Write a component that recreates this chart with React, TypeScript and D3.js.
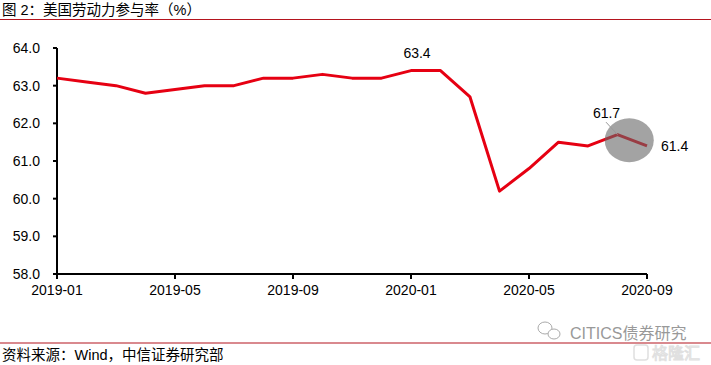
import * as d3 from "d3";

const months = [
  "2019-01", "2019-02", "2019-03", "2019-04", "2019-05", "2019-06", "2019-07",
  "2019-08", "2019-09", "2019-10", "2019-11", "2019-12", "2020-01", "2020-02",
  "2020-03", "2020-04", "2020-05", "2020-06", "2020-07", "2020-08", "2020-09",
];
const rates = [
  63.2, 63.1, 63.0, 62.8, 62.9, 63.0, 63.0, 63.2, 63.2, 63.3, 63.2, 63.2,
  63.4, 63.4, 62.7, 60.2, 60.8, 61.5, 61.4, 61.7, 61.4,
];
const xTickLabels = ["2019-01", "2019-05", "2019-09", "2020-01", "2020-05", "2020-09"];
const yTicks = [58, 59, 60, 61, 62, 63, 64];
const annotated = ["2020-01", "2020-08", "2020-09"];

const W = 711;
const H = 365;
const FONT = "'Liberation Sans', Arial, 'Noto Sans CJK SC', sans-serif";

export default function App() {
  const margin = { left: 57, right: 64, top: 48, bottom: 91 };
  const x = d3
    .scalePoint<string>()
    .domain(months)
    .range([margin.left, W - margin.right]);
  const y = d3.scaleLinear().domain([58, 64]).range([H - margin.bottom, margin.top]);

  const line = d3
    .line<number>()
    .x((_, i) => x(months[i]) as number)
    .y((d) => y(d));

  const pts = months.map((m, i) => ({ m, v: rates[i], px: x(m) as number, py: y(rates[i]) }));
  const p63 = pts.find((p) => p.m === annotated[0])!;
  const p617 = pts.find((p) => p.m === annotated[1])!;
  const p614 = pts.find((p) => p.m === annotated[2])!;
  const axisY = y(58);

  return (
    <div style={{ position: "fixed", left: 0, top: 0 }}>
      <svg width={W} height={H} style={{ display: "block", background: "#fff" }}>
        {/* title */}
        <text x={2} y={15} fontFamily={FONT} fontSize={14.5} fill="#000">
          图 2：美国劳动力参与率（%）
        </text>
        <line x1={0} x2={W} y1={19.5} y2={19.5} stroke="#b4141e" strokeWidth={1.2} />

        {/* y axis */}
        <line x1={margin.left} x2={margin.left} y1={y(64)} y2={axisY} stroke="#000" strokeWidth={2} />
        {yTicks.map((t) => (
          <g key={t}>
            <line x1={margin.left - 4} x2={margin.left} y1={y(t)} y2={y(t)} stroke="#000" strokeWidth={2} />
            <text x={40} y={y(t)} dy="0.35em" textAnchor="end" fontFamily={FONT} fontSize={14} fill="#000">
              {t.toFixed(1)}
            </text>
          </g>
        ))}

        {/* x axis */}
        <line x1={margin.left} x2={W - margin.right} y1={axisY} y2={axisY} stroke="#000" strokeWidth={2} />
        {xTickLabels.map((m) => (
          <g key={m}>
            <line x1={x(m)} x2={x(m)} y1={axisY} y2={axisY + 5} stroke="#000" strokeWidth={2} />
            <text x={x(m)} y={axisY + 21} textAnchor="middle" fontFamily={FONT} fontSize={14} fill="#000">
              {m}
            </text>
          </g>
        ))}

        {/* series */}
        <path d={line(rates) ?? ""} fill="none" stroke="#e60012" strokeWidth={3} strokeLinejoin="round" />

        {/* highlight ellipse */}
        <ellipse
          cx={(p617.px + p614.px) / 2 - 3}
          cy={(p617.py + p614.py) / 2}
          rx={24.5}
          ry={22}
          fill="#666"
          fillOpacity={0.6}
        />

        {/* labels */}
        <text x={p63.px + 6} y={p63.py - 13} textAnchor="middle" fontFamily={FONT} fontSize={14} fill="#000">
          {p63.v.toFixed(1)}
        </text>
        <line x1={p617.px - 11.5} y1={p617.py - 12.5} x2={p617.px} y2={p617.py} stroke="#999" strokeWidth={1} />
        <text x={p617.px - 11} y={p617.py - 17} textAnchor="middle" fontFamily={FONT} fontSize={14} fill="#000">
          {p617.v.toFixed(1)}
        </text>
        <text x={p614.px + 14} y={p614.py} dy="0.35em" textAnchor="start" fontFamily={FONT} fontSize={14} fill="#000">
          {p614.v.toFixed(1)}
        </text>

        {/* watermark */}
        <g>
          <ellipse cx={545} cy={328} rx={7} ry={6} fill="#fff" stroke="#aaa" strokeWidth={1} />
          <ellipse cx={554} cy={334} rx={6} ry={5} fill="#fff" stroke="#aaa" strokeWidth={1} />
          <text x={570} y={339} fontFamily={FONT} fontSize={16} fill="#999">
            CITICS债券研究
          </text>
        </g>

        {/* source */}
        <line x1={0} x2={W} y1={343} y2={343} stroke="#b4141e" strokeWidth={1.2} />
        <text x={2} y={360} fontFamily={FONT} fontSize={14.5} fill="#000">
          资料来源：Wind，中信证券研究部
        </text>
        <g opacity={0.45}>
          <rect x={634} y={345} width={14} height={15} rx={3} fill="none" stroke="#bbb" strokeWidth={1.5} />
          <text x={652} y={359} fontFamily={FONT} fontSize={16} fill="#fff" stroke="#bbb" strokeWidth={1}>
            格隆汇
          </text>
        </g>
      </svg>
    </div>
  );
}
